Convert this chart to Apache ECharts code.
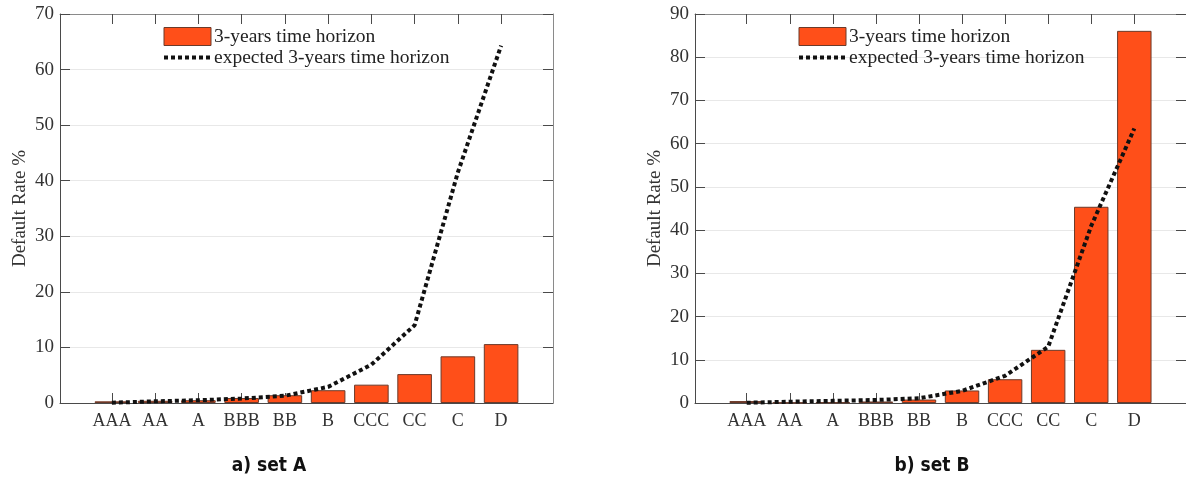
<!DOCTYPE html>
<html>
<head>
<meta charset="utf-8">
<script src="https://cdn.jsdelivr.net/npm/echarts@6/dist/echarts.min.js"></script>
<style>
  html, body { margin: 0; padding: 0; background: #fff; }
  #chart { width: 1186px; height: 484px; }
</style>
</head>
<body>
<div id="chart"></div>
<script>
// Rating classes on the x axis
const categories = ['AAA', 'AA', 'A', 'BBB', 'BB', 'B', 'CCC', 'CC', 'C', 'D'];

// Observed default rates (%) over a 3-year horizon
const observedA = [0.3, 0.4, 0.5, 0.9, 1.4, 2.3, 3.3, 5.2, 8.4, 10.6];
const observedB = [0.45, 0.1, 0.15, 0.35, 0.8, 2.9, 5.5, 12.3, 45.4, 86.1];

// Expected default rates (%) over the same horizon
const expectedA = [0.05, 0.3, 0.5, 0.8, 1.3, 2.9, 6.9, 14.0, 41.5, 64.3];
const expectedB = [0.05, 0.3, 0.5, 0.7, 1.1, 2.8, 6.3, 13.0, 41.0, 63.5];

// Y-axis upper limits
const yMaxA = 70;
const yMaxB = 90;

const seriesNames = ['3-years time horizon', 'expected 3-years time horizon'];
const panelCaptions = ['a) set A', 'b) set B'];

const serif = '"Liberation Serif", "Times New Roman", serif';
const tickIdx = categories.map((_, i) => i);
const darkAxis = '#4a4a4a';
const lightAxis = '#8a8a8a';
const barFill = '#FF4F19';
const barEdge = '#6b3a2a';
const dotted = { color: '#111', width: 4, type: [4, 3] };

function xAxes(g) {
  return [
    {
      gridIndex: g, type: 'value', position: 'bottom', min: -1.2, max: 10.2,
      axisLine: { show: true, onZero: false, lineStyle: { color: darkAxis, width: 1 } },
      axisTick: { show: true, inside: true, length: 10, customValues: tickIdx, lineStyle: { color: darkAxis } },
      axisLabel: {
        customValues: tickIdx, formatter: v => categories[v], margin: 9,
        fontFamily: serif, fontSize: 18, color: '#333'
      },
      splitLine: { show: false }
    },
    {
      gridIndex: g, type: 'value', position: 'top', min: -1.2, max: 10.2,
      axisLine: { show: true, onZero: false, lineStyle: { color: lightAxis, width: 1 } },
      axisTick: { show: true, inside: true, length: 10, customValues: tickIdx, lineStyle: { color: darkAxis } },
      axisLabel: { show: false },
      splitLine: { show: false }
    }
  ];
}

function yAxes(g, yMax) {
  return [
    {
      gridIndex: g, type: 'value', position: 'left', min: 0, max: yMax, interval: 10,
      name: 'Default Rate %', nameLocation: 'middle', nameGap: 30, nameRotate: 90,
      nameTextStyle: { fontFamily: serif, fontSize: 19, color: '#333' },
      axisLine: { show: true, onZero: false, lineStyle: { color: darkAxis, width: 1 } },
      axisTick: { show: true, inside: true, length: 10, lineStyle: { color: darkAxis } },
      axisLabel: { fontFamily: serif, fontSize: 19, color: '#333', margin: 6 },
      splitLine: { show: true, lineStyle: { color: '#e8e8e8', width: 1 } }
    },
    {
      gridIndex: g, type: 'value', position: 'right', min: 0, max: yMax, interval: 10,
      axisLine: { show: true, onZero: false, lineStyle: { color: lightAxis, width: 1 } },
      axisTick: { show: true, inside: true, length: 10, lineStyle: { color: darkAxis } },
      axisLabel: { show: false },
      splitLine: { show: false }
    }
  ];
}

function panelSeries(g, observed, expected) {
  return [
    {
      name: seriesNames[0], type: 'bar', xAxisIndex: g * 2, yAxisIndex: g * 2,
      data: observed.map((v, i) => [i, v]),
      barWidth: '80%',
      itemStyle: { color: barFill, borderColor: barEdge, borderWidth: 1 },
      z: 2
    },
    {
      name: seriesNames[1], type: 'line', xAxisIndex: g * 2, yAxisIndex: g * 2,
      data: expected.map((v, i) => [i, v]),
      symbol: 'none',
      color: '#111',
      lineStyle: dotted,
      z: 3
    }
  ];
}

function legendAt(left) {
  return {
    left: left, top: 26, orient: 'vertical', itemGap: 0, padding: 0,
    itemWidth: 47, itemHeight: 18, selectedMode: false,
    data: [
      { name: seriesNames[0], icon: 'rect', itemStyle: { color: barFill, borderColor: barEdge, borderWidth: 1 } },
      { name: seriesNames[1], itemStyle: { opacity: 0 }, lineStyle: dotted }
    ],
    textStyle: { fontFamily: serif, fontSize: 19.5, lineHeight: 21, color: '#222', padding: [0, 0, 0, -2] }
  };
}

const chart = echarts.init(document.getElementById('chart'), null, { renderer: 'canvas' });

chart.setOption({
  backgroundColor: '#fff',
  animation: false,
  grid: [
    { left: 60, top: 14, width: 493, height: 389, containLabel: false },
    { left: 695, top: 14, width: 493, height: 389, containLabel: false }
  ],
  xAxis: [...xAxes(0), ...xAxes(1)],
  yAxis: [...yAxes(0, yMaxA), ...yAxes(1, yMaxB)],
  legend: [legendAt(162), legendAt(797)],
  series: [...panelSeries(0, observedA, expectedA), ...panelSeries(1, observedB, expectedB)],
  graphic: [
    {
      type: 'text', x: 269, y: 466,
      style: {
        text: panelCaptions[0], textAlign: 'center', textVerticalAlign: 'middle',
        font: 'bold 19px "DejaVu Sans Condensed", "Roboto", sans-serif', fill: '#111'
      }
    },
    {
      type: 'text', x: 932, y: 466,
      style: {
        text: panelCaptions[1], textAlign: 'center', textVerticalAlign: 'middle',
        font: 'bold 19px "DejaVu Sans Condensed", "Roboto", sans-serif', fill: '#111'
      }
    }
  ]
});
</script>
</body>
</html>
